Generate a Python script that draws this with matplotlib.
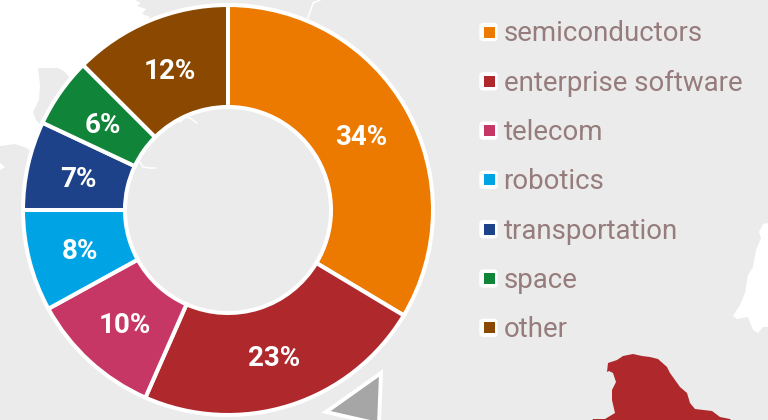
import matplotlib
matplotlib.use("Agg")
import matplotlib.pyplot as plt
from matplotlib.patches import Polygon, FancyBboxPatch

categories = ["semiconductors", "enterprise software", "telecom", "robotics",
              "transportation", "space", "other"]
shares = [33.6, 23.0, 10.4, 8.0, 7.0, 5.5, 12.5]
share_labels = ["34%", "23%", "10%", "8%", "7%", "6%", "12%"]
colors = ["#ec7a00", "#ae282c", "#c73766", "#00a4e4", "#1d4289", "#108438", "#8b4800"]

W, H = 768, 420
GREY = "#ebebeb"
WHITE = "#ffffff"

land_white = [(0,0),(135,0),(141,3),(137,6),(146,9),(142,14),(150,17),(100,80),(50,170),(27,148),(15,144),(0,146)]
land_grey_blob = [(38,68),(58,68),(65,72),(68,76),(90,90),(55,140),(42,126),(36,120),(33,112),(39,100),(40,85)]
land_notch = [(0,163),(5,167),(0,170)]
land_right = [(768,223),(763,224),(759,232),(761,238),(756,250),(753,267),(748,275),(745,293),(740,305),
              (733,316),(737,319),(748,317),(753,330),(758,333),(763,327),(768,327)]
land_red = [(593,419),(605,419),(615,413),(612,400),(612,390),(616,382),(613,373),(609,371),(607,372),(608,363),
            (617,360),(623,356),(633,354),(642,356),(650,357),(658,359),(667,367),(670,373),(680,387),(687,393),
            (690,403),(695,409),(712,411),(720,417),(730,419),(732,421),(592,421)]
coast_top = [(320,0),(313,3),(311,9),(308,18)]
coast_in_a = [(140,162),(143,167),(150,168),(155,168)]
coast_in_b = [(180,122),(185,117),(190,118),(197,123)]
pointer = [(381,373),(326,412),(379,424)]

def flip(pts):
    return [(x, H - y) for x, y in pts]

fig = plt.figure(figsize=(W / 100, H / 100), dpi=100, facecolor=GREY)
ax = fig.add_axes([0, 0, 1, 1])
ax.set_facecolor(GREY)

for pts, col in [(land_white, WHITE), (land_grey_blob, GREY), (land_notch, WHITE),
                 (land_right, WHITE), (land_red, "#ae282c")]:
    ax.add_patch(Polygon(flip(pts), closed=True, facecolor=col, edgecolor="none", zorder=1))
for pts in (coast_top, coast_in_a, coast_in_b):
    xs, ys = zip(*flip(pts))
    ax.plot(xs, ys, color=WHITE, lw=1.1, zorder=1)

ax.add_patch(Polygon(flip(pointer), closed=True, facecolor="#a6a6a6", edgecolor=WHITE,
                     lw=2.8, joinstyle="miter", zorder=1.5))

wedges, _, autotexts = ax.pie(
    shares, colors=colors, startangle=90, counterclock=False,
    center=(228, H - 210), radius=205, frame=True, autopct="%.0f%%", pctdistance=0.746,
    wedgeprops=dict(width=102, edgecolor=WHITE, linewidth=2.9),
    textprops=dict(color=WHITE, fontsize=20, fontweight="bold", family="Roboto"),
)
for txt, lab in zip(autotexts, share_labels):
    txt.set_text(lab)
    txt.set_y(txt.get_position()[1] - 3)

for i, (name, col) in enumerate(zip(categories, colors)):
    y = H - (32 + 49.3 * i)
    ax.add_patch(FancyBboxPatch((481, y - 7.5), 15, 15, boxstyle="round,pad=0,rounding_size=2",
                                mutation_aspect=1, facecolor=WHITE, edgecolor=WHITE, lw=2.4, zorder=3))
    ax.add_patch(FancyBboxPatch((483.5, y - 5.5), 11, 11, boxstyle="square,pad=0",
                                facecolor=col, edgecolor="none", zorder=4))
    ax.text(503.5, y - 1.9, name, color="#967c7c", fontsize=19.9, family="Roboto",
            va="center", ha="left", zorder=4)

ax.set_xlim(0, W)
ax.set_ylim(0, H)
ax.set_aspect("equal")
ax.axis("off")
fig.savefig("out.png", dpi=100, facecolor=GREY)
